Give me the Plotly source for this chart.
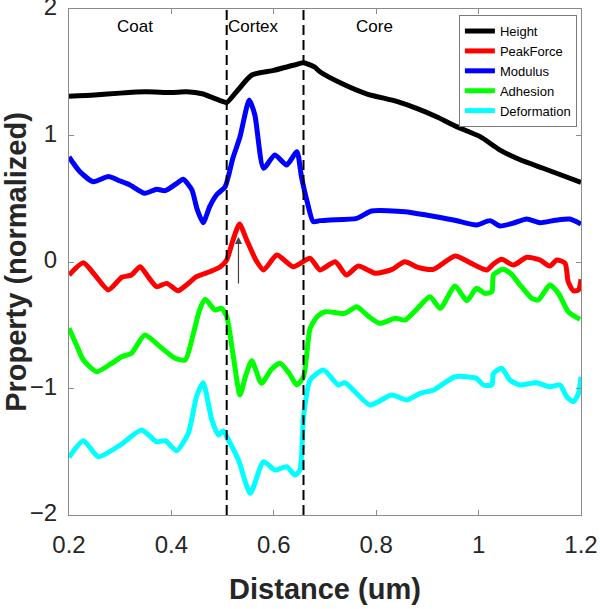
import plotly.graph_objects as go

# ---- data ----
height_x = [0.2, 0.25, 0.3, 0.35, 0.4, 0.43, 0.46, 0.48, 0.5, 0.508, 0.53, 0.557, 0.6, 0.64, 0.658,
            0.68, 0.69, 0.736, 0.781, 0.84, 0.879, 0.92, 0.957, 1.003, 1.042, 1.08, 1.126, 1.16, 1.2]
height_y = [1.31, 1.32, 1.335, 1.345, 1.34, 1.345, 1.33, 1.3, 1.27, 1.26, 1.36, 1.478, 1.515, 1.557, 1.575,
            1.54, 1.504, 1.405, 1.33, 1.27, 1.215, 1.145, 1.07, 0.991, 0.885, 0.81, 0.741, 0.69, 0.63]

mod_x = [0.2, 0.22, 0.247, 0.277, 0.3, 0.319, 0.348, 0.371, 0.388, 0.41, 0.423, 0.44, 0.45, 0.462, 0.475,
         0.488, 0.505, 0.52, 0.534, 0.552, 0.563, 0.58, 0.602, 0.625, 0.645, 0.654, 0.665, 0.677, 0.69,
         0.71, 0.762, 0.791, 0.856, 0.9, 0.951, 0.996, 1.022, 1.042, 1.07, 1.094, 1.12, 1.15, 1.178, 1.2]
mod_y = [0.83, 0.72, 0.635, 0.675, 0.64, 0.609, 0.543, 0.575, 0.564, 0.62, 0.654, 0.57, 0.42, 0.311, 0.44,
         0.53, 0.595, 0.82, 0.99, 1.281, 1.162, 0.741, 0.846, 0.767, 0.872, 0.674, 0.48, 0.319, 0.327,
         0.332, 0.345, 0.403, 0.398, 0.37, 0.332, 0.292, 0.327, 0.285, 0.31, 0.34, 0.311, 0.33, 0.34, 0.30]

pf_x = [0.2, 0.228, 0.25, 0.277, 0.303, 0.322, 0.339, 0.355, 0.371, 0.391, 0.413, 0.43, 0.449, 0.475,
        0.495, 0.508, 0.52, 0.533, 0.547, 0.565, 0.58, 0.606, 0.638, 0.671, 0.69, 0.72, 0.742, 0.765,
        0.798, 0.83, 0.856, 0.88, 0.912, 0.954, 0.99, 1.016, 1.029, 1.045, 1.068, 1.094, 1.12, 1.139,
        1.153, 1.169, 1.175, 1.185, 1.195, 1.2]
pf_y = [-0.103, -0.006, -0.1, -0.221, -0.121, -0.103, -0.037, -0.12, -0.195, -0.169, -0.227, -0.18,
        -0.116, -0.077, -0.04, 0.016, 0.17, 0.30, 0.174, 0.016, -0.063, 0.055, -0.037, 0.029, -0.063,
        0.002, -0.103, -0.032, -0.089, -0.06, 0.002, -0.04, -0.058, 0.047, -0.02, -0.063, -0.016, 0.021,
        -0.024, 0.037, 0.016, -0.032, 0.016, -0.010, -0.156, -0.227, -0.221, -0.137]

ad_x = [0.2, 0.215, 0.228, 0.254, 0.28, 0.303, 0.322, 0.348, 0.378, 0.407, 0.427, 0.443, 0.455, 0.466,
        0.485, 0.498, 0.508, 0.521, 0.534, 0.545, 0.557, 0.576, 0.595, 0.612, 0.63, 0.645, 0.658, 0.671,
        0.685, 0.7, 0.739, 0.762, 0.785, 0.807, 0.837, 0.856, 0.88, 0.905, 0.925, 0.954, 0.977, 0.996,
        1.012, 1.026, 1.029, 1.048, 1.065, 1.081, 1.104, 1.117, 1.139, 1.156, 1.175, 1.198]
ad_y = [-0.524, -0.66, -0.775, -0.867, -0.81, -0.749, -0.722, -0.577, -0.67, -0.761, -0.775, -0.564,
        -0.38, -0.295, -0.379, -0.366, -0.43, -0.749, -1.051, -0.9, -0.78, -0.959, -0.85, -0.801, -0.88,
        -0.972, -0.907, -0.524, -0.43, -0.393, -0.406, -0.353, -0.43, -0.485, -0.445, -0.459, -0.37,
        -0.274, -0.366, -0.19, -0.306, -0.208, -0.248, -0.235, -0.103, -0.058, -0.1, -0.182, -0.287,
        -0.3, -0.182, -0.248, -0.393, -0.453]

df_x = [0.2, 0.228, 0.257, 0.3, 0.342, 0.371, 0.388, 0.41, 0.433, 0.449, 0.462, 0.479, 0.492, 0.501,
        0.508, 0.531, 0.554, 0.58, 0.602, 0.625, 0.641, 0.651, 0.658, 0.671, 0.697, 0.726, 0.739, 0.788,
        0.83, 0.86, 0.886, 0.912, 0.954, 0.996, 1.009, 1.026, 1.029, 1.045, 1.061, 1.081, 1.113, 1.139,
        1.159, 1.172, 1.185, 1.195, 1.2]
df_y = [-1.544, -1.413, -1.539, -1.447, -1.328, -1.421, -1.413, -1.492, -1.354, -1.065, -0.954, -1.249,
        -1.368, -1.334, -1.381, -1.565, -1.828, -1.578, -1.644, -1.618, -1.684, -1.644, -1.223, -0.933,
        -0.854, -0.972, -0.954, -1.13, -1.051, -1.091, -1.038, -1.012, -0.907, -0.92, -0.972, -0.972,
        -0.88, -0.84, -0.933, -0.972, -0.954, -0.986, -0.972, -1.065, -1.104, -1.038, -0.907]

series = [
    ("Height", height_x, height_y, "#000000"),
    ("PeakForce", pf_x, pf_y, "#ff0000"),
    ("Modulus", mod_x, mod_y, "#0000ff"),
    ("Adhesion", ad_x, ad_y, "#00ff00"),
    ("Deformation", df_x, df_y, "#00ffff"),
]

boundaries = [0.508, 0.658]
regions = [("Coat", 0.329), ("Cortex", 0.561), ("Core", 0.796)]
region_y = 1.858
arrow_x = 0.531
arrow_tail = -0.182
arrow_head = 0.199

x_ticks = [0.2, 0.4, 0.6, 0.8, 1.0, 1.2]
x_ticktext = ["0.2", "0.4", "0.6", "0.8", "1", "1.2"]
y_ticks = [-2, -1, 0, 1, 2]

FONT = "Liberation Sans, Arial, sans-serif"

fig = go.Figure()
for name, xs, ys, col in series:
    fig.add_trace(go.Scatter(x=xs, y=ys, name=name, mode="lines",
                             line=dict(color=col, width=5, shape="spline", smoothing=0.6)))

for b in boundaries:
    fig.add_shape(type="line", xref="x", yref="paper", x0=b, x1=b, y0=0, y1=1,
                  line=dict(color="black", width=2, dash="10px,5px"))

for txt, xv in regions:
    fig.add_annotation(x=xv, y=region_y, text=txt, showarrow=False,
                       font=dict(family=FONT, size=17, color="black"))

fig.add_annotation(x=arrow_x, y=arrow_head, ax=arrow_x, ay=arrow_tail, axref="x", ayref="y",
                   xref="x", yref="y", text="", showarrow=True, arrowhead=2, arrowsize=1.2,
                   arrowwidth=1.2, arrowcolor="#444444")

axis_common = dict(showgrid=False, zeroline=False, showline=True, linecolor="#8a8a8a", linewidth=1,
                   mirror="ticks", ticks="inside", ticklen=5, tickcolor="#8a8a8a", automargin=False,
                   ticklabeloverflow="allow",
                   tickfont=dict(family=FONT, size=24, color="#262626"))

fig.update_xaxes(range=[0.2, 1.2], tickvals=x_ticks, ticktext=x_ticktext, ticklabelstandoff=8,
                 title=dict(text="<b>Distance (um)</b>", font=dict(family=FONT, size=29, color="#262626"),
                            standoff=21),
                 **axis_common)
fig.update_yaxes(range=[-2, 2], tickvals=y_ticks, ticklabelstandoff=6, ticklabelshift=-2,
                 title=dict(text="<b>Property (normalized)</b>", font=dict(family=FONT, size=29, color="#262626"),
                            standoff=18),
                 **axis_common)

fig.update_layout(
    width=600, height=609,
    margin=dict(l=69, r=19, t=9, b=94),
    plot_bgcolor="white", paper_bgcolor="white",
    legend=dict(x=0.992, y=0.988, xanchor="right", yanchor="top",
                bgcolor="white", bordercolor="#7a7a7a", borderwidth=1,
                font=dict(family=FONT, size=13, color="black"),
                tracegroupgap=0, itemwidth=30),
    showlegend=True,
)

fig.write_html("out.html", config={"displayModeBar": False},
               post_script="document.body.style.margin='0px';")
